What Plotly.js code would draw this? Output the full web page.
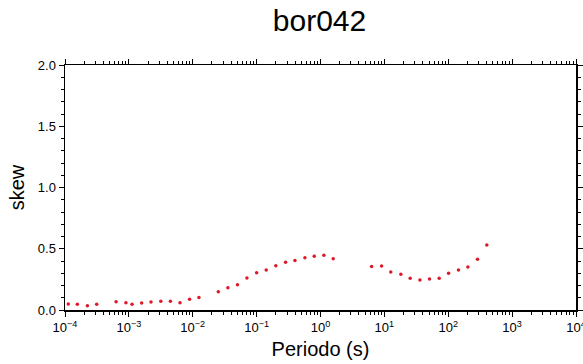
<!DOCTYPE html>
<html><head><meta charset="utf-8">
<script src="https://cdn.plot.ly/plotly-3.0.1.min.js"></script>
<style>html,body{margin:0;padding:0;background:#fff;}#chart{width:583px;height:364px;}</style>
</head><body><div id="chart"></div>
<script>
const logPeriod = [-3.948,-3.807,-3.65,-3.504,-3.20,-3.046,-2.95,-2.80,-2.654,-2.50,-2.35,-2.20,-2.05,-1.903,-1.60,-1.45,-1.30,-1.152,-1.0,-0.85,-0.70,-0.547,-0.40,-0.244,-0.098,0.053,0.199,0.80,0.956,1.10,1.258,1.404,1.556,1.707,1.858,2.005,2.16,2.307,2.458,2.604];
const skew = [0.049,0.046,0.035,0.046,0.068,0.060,0.046,0.057,0.065,0.071,0.071,0.060,0.087,0.103,0.150,0.182,0.207,0.261,0.305,0.327,0.362,0.389,0.405,0.427,0.438,0.446,0.419,0.356,0.359,0.310,0.291,0.259,0.245,0.253,0.259,0.299,0.327,0.351,0.414,0.531];
const xTickExp = [-4,-3,-2,-1,0,1,2,3,4];
const yTickVals = [0,0.5,1.0,1.5,2.0];
const period = logPeriod.map(v => Math.pow(10, v));
const titleText = 'bor042';
const xTitle = 'Periodo (s)';
const yTitle = 'skew';

const trace = {x: period, y: skew, type:'scatter', mode:'markers',
  marker:{color:'rgb(220,25,40)', size:3.5, symbol:'circle'}, hoverinfo:'none', cliponaxis:false};
const font = "Liberation Sans, Arial, Helvetica, sans-serif";
const layout = {
  width:583, height:364,
  margin:{l:65, r:7, t:65, b:54},
  paper_bgcolor:'#fff', plot_bgcolor:'#fff',
  showlegend:false,
  font:{family:font, color:'#000'},
  title:{text:titleText, x:0.548, xanchor:'center', y:0.945, yanchor:'middle', font:{size:30, family:font}},
  xaxis:{type:'log', range:[-4,4], tickmode:'array',
    tickvals:xTickExp.map(e => Math.pow(10, e)),
    ticktext:xTickExp.map(e => '10<sup>' + (e < 0 ? '\u2212' + (-e) : e) + '</sup>'),
    ticklabeloverflow:'allow',
    showgrid:false, zeroline:false, automargin:false,
    showline:true, linecolor:'#000', linewidth:1.5, mirror:'allticks', ticks:'outside', ticklen:5, tickwidth:1,
    tickcolor:'#000', tickfont:{size:13, family:font},
    minor:{ticks:'outside', ticklen:3, tickcolor:'#000', dtick:'D1', showgrid:false},
    title:{text:xTitle, font:{size:20, family:font}, standoff:8}},
  yaxis:{range:[0,2], tickmode:'array', tickvals:yTickVals, ticktext:yTickVals.map(v => v.toFixed(1)),
    showgrid:false, zeroline:false, automargin:false,
    showline:true, linecolor:'#000', linewidth:1.5, mirror:'allticks', ticks:'outside', ticklen:5, tickwidth:1,
    tickcolor:'#000', tickfont:{size:13, family:font},
    minor:{ticks:'outside', ticklen:3, tickcolor:'#000', dtick:0.1, showgrid:false},
    title:{text:yTitle, font:{size:20, family:font}, standoff:8}}
};
Plotly.newPlot('chart', [trace], layout, {staticPlot:true, displayModeBar:false});
</script></body></html>
